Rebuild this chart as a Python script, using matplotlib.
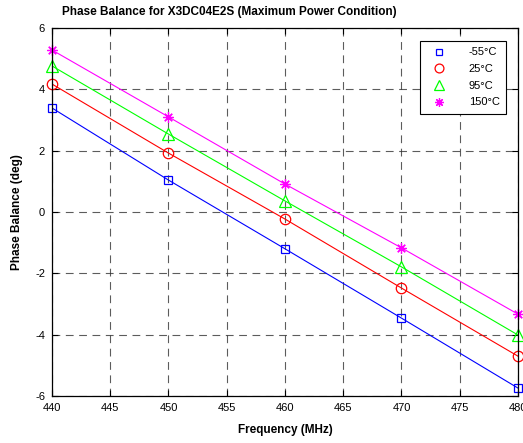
import matplotlib.pyplot as plt
import numpy as np

plt.rcParams['font.family'] = ['Liberation Sans', 'DejaVu Sans']
plt.rcParams['axes.unicode_minus'] = False

freq = [440, 450, 460, 470, 480]
pb_m55 = [3.39, 1.04, -1.20, -3.46, -5.74]
pb_25 = [4.17, 1.92, -0.23, -2.48, -4.70]
pb_95 = [4.76, 2.54, 0.36, -1.79, -4.01]
pb_150 = [5.28, 3.10, 0.91, -1.17, -3.33]
labels = ['-55\u00b0C', '25\u00b0C', '95\u00b0C', '150\u00b0C']

series = [pb_m55, pb_25, pb_95, pb_150]
colors = ['#0000ff', '#ff0000', '#00ff00', '#ff00ff']
markers = ['s', 'o', '^', (8, 2, 0)]
msizes = [5.5, 7.5, 8.5, 7.5]

fig = plt.figure(figsize=(5.23, 4.43), dpi=100)
ax = fig.add_axes([0.0994, 0.106, 0.891, 0.831])

for y, c, m, ms, lab in zip(series, colors, markers, msizes, labels):
    ax.plot(freq, y, color=c, lw=0.8)
    ax.plot(freq, y, ls='none', marker=m, ms=ms, mfc='none', mec=c, mew=0.9,
            label=lab, clip_on=False)

ax.set_xlim(440, 480)
ax.set_ylim(-6, 6)
ax.set_xticks(np.arange(440, 481, 5))
ax.set_yticks(np.arange(-6, 7, 2))
ax.grid(True, color='#333333', ls=(0, (7, 5)), lw=0.8, alpha=0.8)
ax.tick_params(direction='in', top=True, right=True, labelsize=8, length=4, pad=5)
for s in ax.spines.values():
    s.set_linewidth(0.9)

ax.set_xlabel('Frequency (MHz)', fontsize=8.5, fontweight='bold', labelpad=8)
ax.set_ylabel('Phase Balance (deg)', fontsize=8.5, fontweight='bold', labelpad=9)
ax.set_title('Phase Balance for X3DC04E2S (Maximum Power Condition)',
             fontsize=8.5, fontweight='bold', x=0.38, pad=9)

leg = ax.legend(loc='upper right', bbox_to_anchor=(0.975, 0.965), fontsize=8,
                fancybox=False, edgecolor='black', framealpha=1, markerscale=0.85,
                handlelength=2.2, handletextpad=1.6, borderpad=0.6,
                labelspacing=0.6, borderaxespad=0)
leg.get_frame().set_linewidth(0.8)

fig.savefig('out.png', dpi=100)
